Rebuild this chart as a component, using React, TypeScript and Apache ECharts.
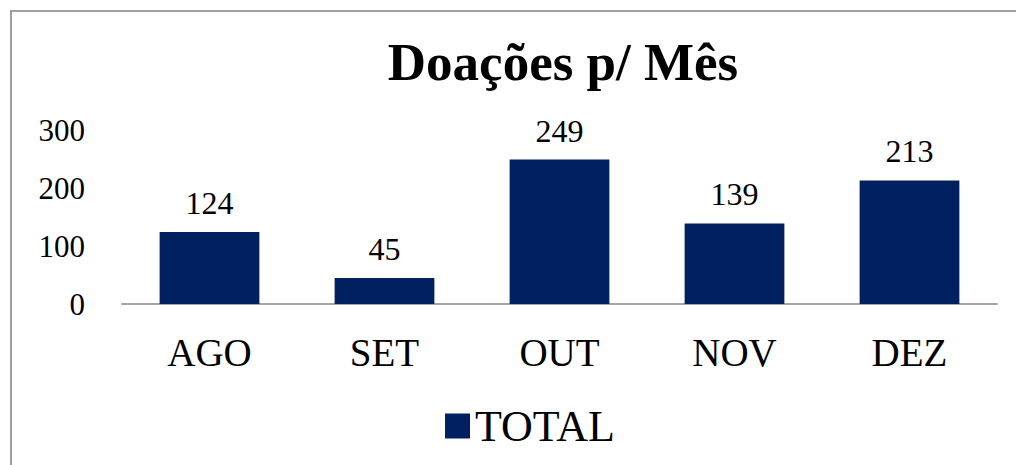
import React, { useEffect, useRef } from "react";
import * as echarts from "echarts";

const categories = ["AGO", "SET", "OUT", "NOV", "DEZ"];
const totals = [124, 45, 249, 139, 213];
const seriesName = "TOTAL";
const titleText = "Doações p/ Mês";

export default function App() {
  const ref = useRef<HTMLDivElement>(null);
  useEffect(() => {
    document.body.style.margin = "0";
    const chart = echarts.init(ref.current!, null, { renderer: "svg" });
    const serif = "'Liberation Serif', 'DejaVu Serif', serif";
    chart.setOption({
      animation: false,
      backgroundColor: "#ffffff",
      title: {
        text: titleText,
        left: 558,
        textAlign: "center",
        top: 30,
        textStyle: { fontFamily: serif, fontWeight: "bold", fontSize: 53, color: "#000" },
      },
      graphic: [
        {
          type: "rect",
          shape: { x: 11, y: 11, width: 1100, height: 600 },
          style: { fill: "none", stroke: "#a0a0a0", lineWidth: 2 },
          silent: true,
        },
      ],
      legend: {
        data: [seriesName],
        left: 440,
        top: 399,
        itemWidth: 25,
        itemHeight: 25,
        itemGap: 8,
        icon: "rect",
        textStyle: { fontFamily: serif, fontSize: 44, color: "#000" },
      },
      grid: { left: 122, right: 19, top: 130, bottom: 161 },
      xAxis: {
        type: "category",
        data: categories,
        axisLine: { lineStyle: { color: "#a6a6a6", width: 2 } },
        axisTick: { show: false },
        axisLabel: { fontFamily: serif, fontSize: 39, color: "#000", margin: 29 },
      },
      yAxis: {
        type: "value",
        min: 0,
        max: 300,
        interval: 100,
        splitLine: { show: false },
        axisLine: { show: false },
        axisTick: { show: false },
        axisLabel: { fontFamily: serif, fontSize: 31, color: "#000", margin: 37 },
      },
      series: [
        {
          name: seriesName,
          type: "bar",
          data: totals,
          barCategoryGap: "43%",
          itemStyle: { color: "#002060" },
          label: {
            show: true,
            position: "top",
            distance: 13,
            fontFamily: serif,
            fontSize: 32,
            color: "#000",
          },
        },
      ],
    });
    return () => chart.dispose();
  }, []);
  return <div ref={ref} style={{ width: 1016, height: 465 }} />;
}
